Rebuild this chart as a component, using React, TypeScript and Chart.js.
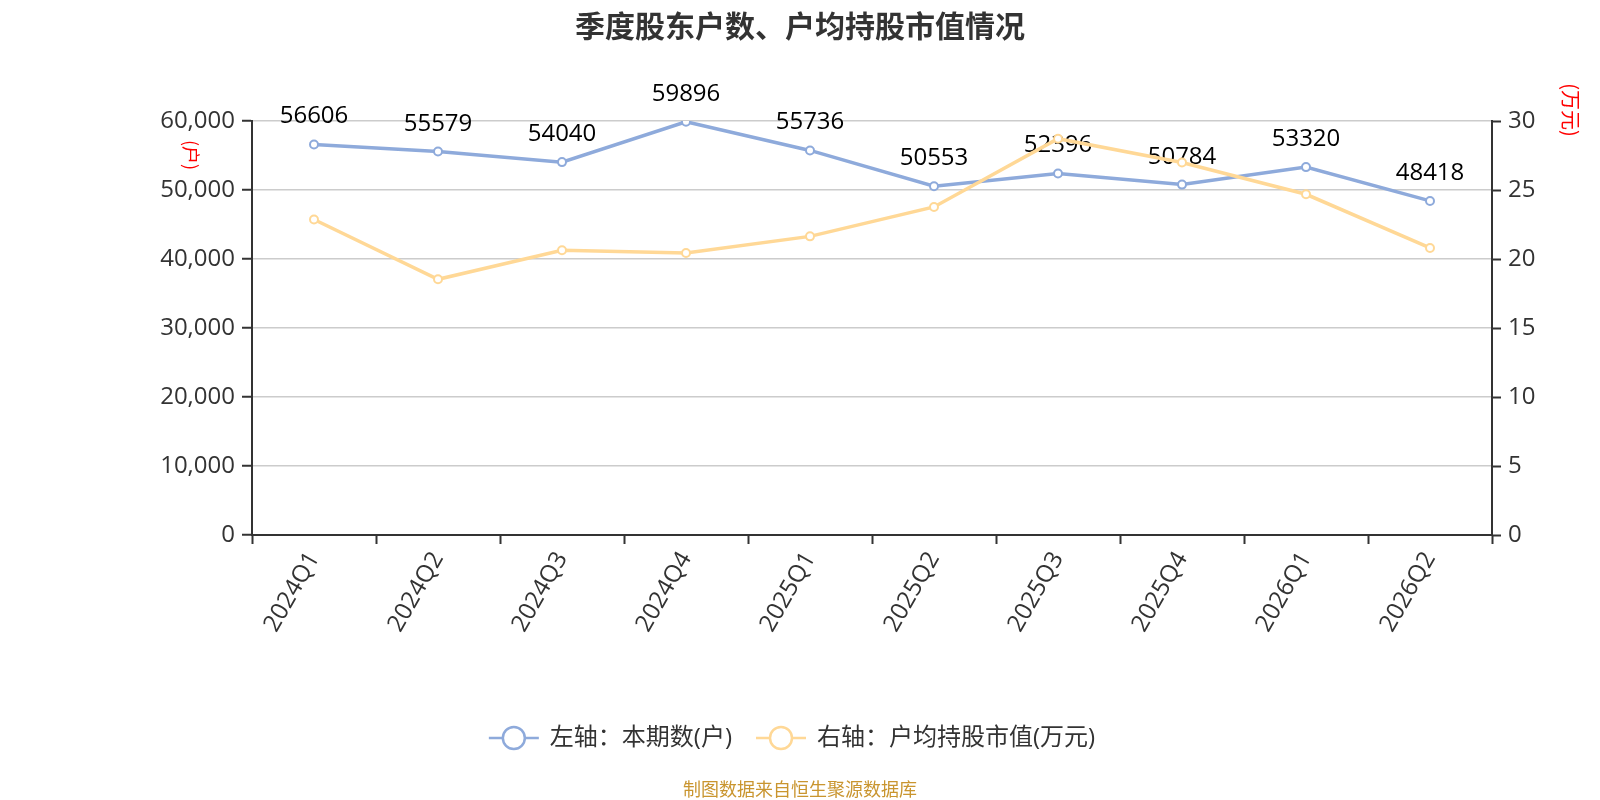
import React, { useEffect, useRef } from "react";
import { Chart, registerables } from "chart.js";

Chart.register(...registerables);

const categories = ["2024Q1", "2024Q2", "2024Q3", "2024Q4", "2025Q1", "2025Q2", "2025Q3", "2025Q4", "2026Q1", "2026Q2"];
const holders = [56606, 55579, 54040, 59896, 55736, 50553, 52396, 50784, 53320, 48418];
const avgValue = [22.86, 18.53, 20.63, 20.43, 21.64, 23.77, 28.72, 26.99, 24.69, 20.8];
const seriesNames = ["左轴：本期数(户)", "右轴：户均持股市值(万元)"];
const titleText = "季度股东户数、户均持股市值情况";
const leftUnit = "(户)";
const rightUnit = "(万元)";
const sourceText = "制图数据来自恒生聚源数据库";

const BLUE = "#8eaadb";
const ORANGE = "#ffd896";
const FONT = "'Open Sans', 'Noto Sans CJK SC', sans-serif";
const CJK = "'Noto Sans CJK SC', sans-serif";

const overlay = {
  id: "overlay",
  afterDatasetDraw(chart: any, args: any) {
    if (args.index !== 0) return;
    const ctx = chart.ctx;
    const meta = chart.getDatasetMeta(0);
    ctx.save();
    ctx.font = `24px ${FONT}`;
    ctx.fillStyle = "#000";
    ctx.textAlign = "center";
    ctx.textBaseline = "alphabetic";
    meta.data.forEach((pt: any, i: number) => {
      ctx.fillText(String(holders[i]), pt.x, pt.y - 21);
    });
    ctx.restore();
  },
  afterDraw(chart: any) {
    const ctx = chart.ctx;
    ctx.save();
    // title
    ctx.font = `bold 30px ${CJK}`;
    ctx.fillStyle = "#333";
    ctx.textAlign = "center";
    ctx.textBaseline = "middle";
    ctx.fillText(titleText, 800, 26);

    // axis unit titles
    ctx.fillStyle = "#ff0000";
    ctx.font = `18px ${CJK}`;
    ctx.save();
    ctx.translate(191, 155);
    ctx.rotate(Math.PI / 2);
    ctx.fillText(leftUnit, 0, 0);
    ctx.restore();
    ctx.font = `20px ${CJK}`;
    ctx.save();
    ctx.translate(1571, 110);
    ctx.rotate(Math.PI / 2);
    ctx.fillText(rightUnit, 0, 0);
    ctx.restore();

    // legend
    ctx.font = `24px ${FONT}`;
    const colors = [BLUE, ORANGE];
    const widths = seriesNames.map((s) => ctx.measureText(s).width);
    const total = widths.reduce((a, w) => a + 50 + 11 + w, 0) + 24 * (seriesNames.length - 1);
    let x = 792 - total / 2;
    const ly = 738;
    seriesNames.forEach((name, i) => {
      ctx.strokeStyle = colors[i];
      ctx.lineWidth = 2.5;
      ctx.beginPath();
      ctx.moveTo(x, ly);
      ctx.lineTo(x + 50, ly);
      ctx.stroke();
      ctx.beginPath();
      ctx.arc(x + 25, ly, 11, 0, Math.PI * 2);
      ctx.fillStyle = "#fff";
      ctx.fill();
      ctx.stroke();
      ctx.fillStyle = "#333";
      ctx.textAlign = "left";
      ctx.textBaseline = "middle";
      ctx.fillText(name, x + 61, ly);
      x += 61 + widths[i] + 24;
    });

    // source
    ctx.font = `18px ${CJK}`;
    ctx.fillStyle = "#c9952f";
    ctx.textAlign = "center";
    ctx.textBaseline = "middle";
    ctx.fillText(sourceText, 800, 789);
    ctx.restore();
  },
};

export default function App() {
  const ref = useRef<HTMLCanvasElement | null>(null);
  useEffect(() => {
    if (!ref.current) return;
    const chart = new Chart(ref.current, {
      type: "line",
      data: {
        labels: categories,
        datasets: [
          {
            label: seriesNames[0],
            data: holders,
            yAxisID: "y",
            borderColor: BLUE,
            backgroundColor: "#fff",
            borderWidth: 3.5,
            pointRadius: 4,
            pointBorderWidth: 2,
            pointBackgroundColor: "#fff",
            pointBorderColor: BLUE,
            tension: 0,
            order: 2,
          },
          {
            label: seriesNames[1],
            data: avgValue,
            yAxisID: "y1",
            borderColor: ORANGE,
            backgroundColor: "#fff",
            borderWidth: 3.5,
            pointRadius: 4,
            pointBorderWidth: 2,
            pointBackgroundColor: "#fff",
            pointBorderColor: ORANGE,
            tension: 0,
            order: 1,
          },
        ],
      },
      options: {
        responsive: false,
        animation: false,
        devicePixelRatio: 1,
        layout: { padding: { top: 121, left: 0, right: 0, bottom: 0 } },
        plugins: {
          legend: { display: false },
          title: { display: false },
          tooltip: { enabled: false },
        },
        scales: {
          x: {
            offset: true,
            grid: {
              offset: true,
              drawOnChartArea: false,
              drawTicks: true,
              tickLength: 9,
              tickWidth: 2,
              tickColor: "#333",
            },
            border: { display: true, color: "#333", width: 2 },
            ticks: {
              autoSkip: false,
              minRotation: 60,
              maxRotation: 60,
              padding: 3,
              color: "#333",
              font: { family: FONT, size: 24 },
            },
            afterFit(s: any) {
              s.height = 265;
            },
          },
          y: {
            position: "left",
            min: 0,
            max: 60000,
            ticks: {
              stepSize: 10000,
              padding: 7,
              color: "#333",
              font: { family: FONT, size: 24 },
              callback: (v: any) => Number(v).toLocaleString("en-US"),
            },
            grid: {
              color: "#cccccc",
              lineWidth: 1.5,
              drawTicks: true,
              tickLength: 10,
              tickWidth: 2,
              tickColor: "#333",
            },
            border: { display: true, color: "#333", width: 2 },
            afterFit(s: any) {
              s.width = 252;
            },
          },
          y1: {
            position: "right",
            min: 0,
            max: 30,
            ticks: {
              stepSize: 5,
              padding: 7,
              color: "#333",
              font: { family: FONT, size: 24 },
            },
            grid: {
              drawOnChartArea: false,
              drawTicks: true,
              tickLength: 9,
              tickWidth: 2,
              tickColor: "#333",
            },
            border: { display: true, color: "#333", width: 2 },
            afterFit(s: any) {
              s.width = 108;
            },
          },
        },
      },
      plugins: [overlay],
    });
    return () => chart.destroy();
  }, []);
  return (
    <div style={{ position: "fixed", left: 0, top: 0, width: 1600, height: 800, background: "#fff" }}>
      <canvas ref={ref} width={1600} height={800} style={{ width: 1600, height: 800 }} />
    </div>
  );
}
